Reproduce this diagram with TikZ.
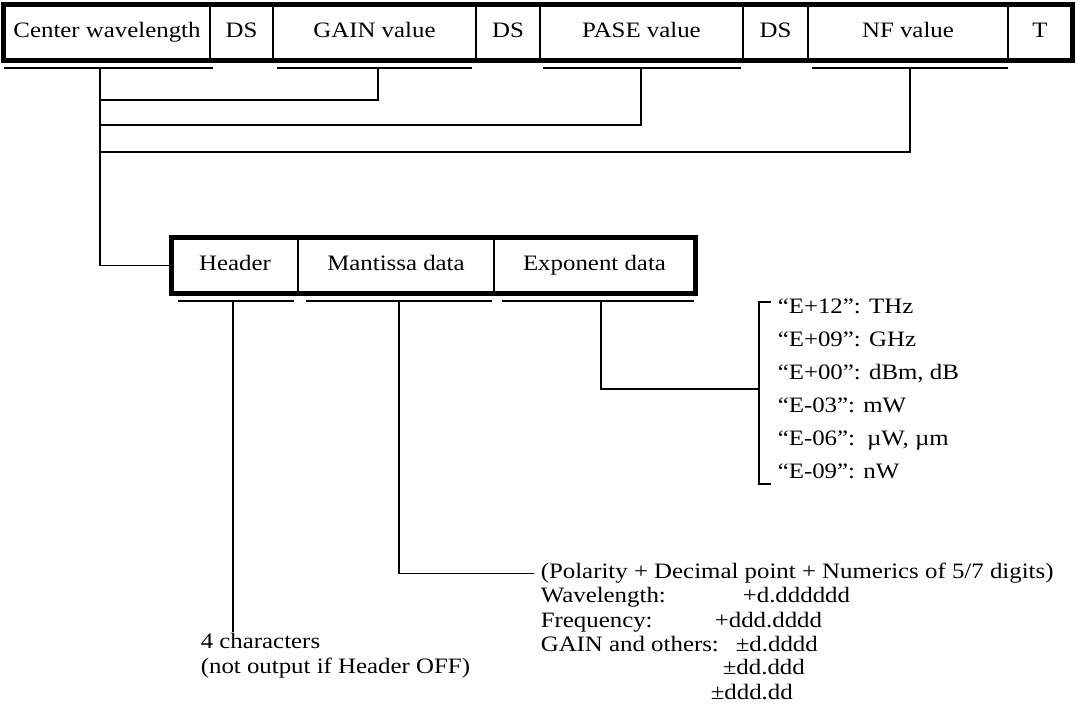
\documentclass[tikz,border=0pt]{standalone}
\usepackage{fontspec}
\setmainfont{Liberation Serif}[FakeStretch=1.13]
\usetikzlibrary{positioning,calc}

\begin{document}
\begin{tikzpicture}[x=0.5pt,y=-0.5pt,line width=0.8pt,
    font=\fontsize{11}{13}\selectfont,
    cell/.style={draw,line width=0.6pt,inner sep=0pt,minimum height=27.5pt,
      text height=8pt,text depth=2.5pt},
    frame/.style={line width=2.2pt},
    txt/.style={inner sep=0pt,anchor=base west}]
  \useasboundingbox (0,0) rectangle (1076,715);
  % output record
  \foreach \l/\r/\n/\t in {4/210/cw/Center wavelength,210/273/dsa/DS,
      273/476/gain/GAIN value,476/540/dsb/DS,540/743/pase/PASE value,
      743/808/dsc/DS,808/1008/nf/NF value,1008/1072/term/T}
    \node[cell,minimum width={(\r-\l)*0.5pt}] (\n) at ({(\l+\r)/2},32.5) {\t};
  \draw[frame] (cw.north west) rectangle (term.south east);
  \foreach \n/\l/\r/\m in {cw/4/213/100,gain/277/472/378,pase/543/741/641,nf/812/1008/910} {
    \draw (\l,68) -- (\r,68);
    \coordinate (\n-u) at (\m,68);
  }
  \coordinate (ja) at (100,100);
  \coordinate (jb) at (100,125);
  \coordinate (jc) at (100,152);
  % one value
  \foreach \l/\r/\n/\t in {172/298/hdr/Header,298/494/man/Mantissa data,494/695/expo/Exponent data}
    \node[cell,minimum width={(\r-\l)*0.5pt}] (\n) at ({(\l+\r)/2},265.5) {\t};
  \draw[frame] (hdr.north west) rectangle (expo.south east);
  \foreach \n/\l/\r/\m in {hdr/178/294/233,man/306/492/399,expo/502/694/601} {
    \draw (\l,301) -- (\r,301);
    \coordinate (\n-u) at (\m,301);
  }
  \draw (cw-u) |- (hdr.west);
  \draw (gain-u) |- (ja);
  \draw (pase-u) |- (jb);
  \draw (nf-u) |- (jc);
  % exponent list
  \node[txt] (eta) at (777,314) {“E+12”: THz};
  \node[txt] (etb) at (777,347) {“E+09”: GHz};
  \node[txt] (etc) at (777,380) {“E+00”: dBm, dB};
  \node[txt] (etd) at (777,413) {“E-03”: mW};
  \node[txt] (ete) at (777,446) {“E-06”:\, µW, µm};
  \node[txt] (etf) at (777,479) {“E-09”: nW};
  \coordinate (brt) at (771,302);
  \coordinate (brk) at (759,389);
  \coordinate (brb) at (771,484);
  \draw (brt) -| (brk) |- (brb);
  \draw (expo-u) |- (brk);
  % mantissa notes
  \node[txt] (pol) at (540,579) {(Polarity + Decimal point + Numerics of 5/7 digits)};
  \node[txt] (wl) at (540,603) {Wavelength:};
  \node[txt] (fr) at (540,627) {Frequency:};
  \node[txt] (ga) at (540,652) {GAIN and others:};
  \node[txt] (va) at (742,603) {+d.dddddd};
  \node[txt] (vb) at (714,627) {+ddd.dddd};
  \node[txt] (vc) at (735,652) {±d.dddd};
  \node[txt] (vd) at (722,675) {±dd.ddd};
  \node[txt] (ve) at (710,699) {±ddd.dd};
  \draw (man-u) |- ([xshift=-3pt]pol.west);
  % header notes
  \node[txt] (four) at (200,648) {4 characters};
  \node[txt] (notout) at (200,673) {(not output if Header OFF)};
  \draw (hdr-u) -- (hdr-u |- four.north);
\end{tikzpicture}
\end{document}
